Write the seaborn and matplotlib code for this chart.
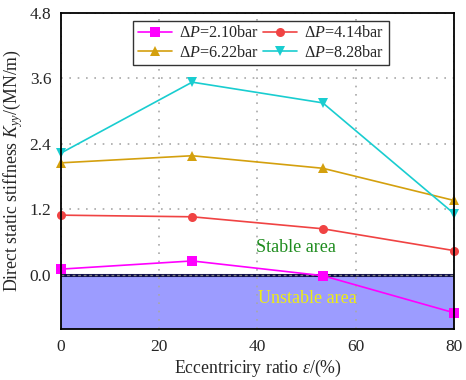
import matplotlib
matplotlib.use("Agg")
import matplotlib.pyplot as plt
import seaborn as sns
import pandas as pd

# Eccentricity ratio (%) and direct static stiffness K_yy (MN/m) per pressure drop
eccentricity = [0, 26.7, 53.3, 80]
k_210 = [0.10, 0.25, -0.02, -0.70]
k_414 = [1.09, 1.06, 0.84, 0.44]
k_622 = [2.05, 2.18, 1.95, 1.36]
k_828 = [2.23, 3.53, 3.15, 1.12]
series_labels = [r"$\Delta P$=2.10bar", r"$\Delta P$=4.14bar",
                 r"$\Delta P$=6.22bar", r"$\Delta P$=8.28bar"]
x_ticks = [0, 20, 40, 60, 80]
y_ticks = [0.0, 1.2, 2.4, 3.6, 4.8]

sns.set_theme(style="white")
plt.rcParams["font.family"] = ["Liberation Serif", "DejaVu Serif"]
plt.rcParams["mathtext.fontset"] = "custom"
plt.rcParams["mathtext.rm"] = "Liberation Serif"
plt.rcParams["mathtext.it"] = "Liberation Serif:italic"
plt.rcParams["mathtext.bf"] = "Liberation Serif:bold"

rows = []
for lab, vals in zip(series_labels, [k_210, k_414, k_622, k_828]):
    for x, v in zip(eccentricity, vals):
        rows.append({"ecc": x, "K": v, "series": lab})
df = pd.DataFrame(rows)

palette = dict(zip(series_labels, ["#FF00FF", "#F04343", "#D4A00E", "#19CDD0"]))
markers = dict(zip(series_labels, ["s", "o", "^", "v"]))

fig = plt.figure(figsize=(4.66, 3.80), dpi=100)
ax = fig.add_axes([0.131, 0.134, 0.843, 0.832])

# unstable region below zero stiffness
ax.axhspan(-1.0, 0.0, facecolor="#9C9CFF", edgecolor="none", zorder=0)
ax.axhline(0.0, color="#10104a", lw=2.2, zorder=1)
ax.axhline(0.0, color="#808080", lw=1.0, ls=(0, (2, 2)), zorder=1.1)

sns.lineplot(data=df, x="ecc", y="K", hue="series", style="series",
             palette=palette, markers=markers, dashes=False,
             markersize=6.5, markeredgewidth=0, linewidth=1.2, ax=ax,
             zorder=3, clip_on=False)

ax.set_xlim(0, 80)
ax.set_ylim(-1.0, 4.8)
ax.set_xticks(x_ticks)
ax.set_yticks(y_ticks)
ax.set_yticklabels([f"{v:.1f}" for v in y_ticks])
ax.grid(True, color="#a8a8a8", ls=(0, (1, 4)), lw=1.2)
for line in ax.get_xgridlines() + ax.get_ygridlines():
    line.set_zorder(1.5)
ax.tick_params(direction="in", length=3, width=0.8, color="#888888",
               labelsize=12.5, pad=7, top=False, right=False)
for s in ax.spines.values():
    s.set_color("black")
    s.set_linewidth(1.3)
    s.set_zorder(5)

ax.set_xlabel(r"Eccentriciry ratio $\varepsilon$/(%)", fontsize=12.8, labelpad=2)
ax.set_ylabel(r"Direct static stiffness $K_{yy}$/(MN/m)", fontsize=12.8, labelpad=3)

ax.text(39.6, 0.50, "Stable area", color="#1E8C1E", fontsize=13,
        va="center", ha="left", zorder=4)
ax.text(40.2, -0.44, "Unstable area", color="#EEEE10", fontsize=13,
        va="center", ha="left", zorder=4)

# legend rows: 2.10 / 4.14 on top, 6.22 / 8.28 below
handles, labels = ax.get_legend_handles_labels()
order = [0, 2, 1, 3]
leg = ax.legend([handles[i] for i in order], [labels[i] for i in order],
                ncol=2, loc="upper left", bbox_to_anchor=(0.183, 0.976),
                fontsize=11.6, frameon=True, fancybox=False, framealpha=1,
                edgecolor="#333333", handlelength=2.1, columnspacing=0.25,
                handletextpad=0.45, borderpad=0.3, labelspacing=0.2,
                borderaxespad=0)
leg.get_frame().set_linewidth(1.0)
leg.set_zorder(6)

fig.savefig("out.png", dpi=100)
